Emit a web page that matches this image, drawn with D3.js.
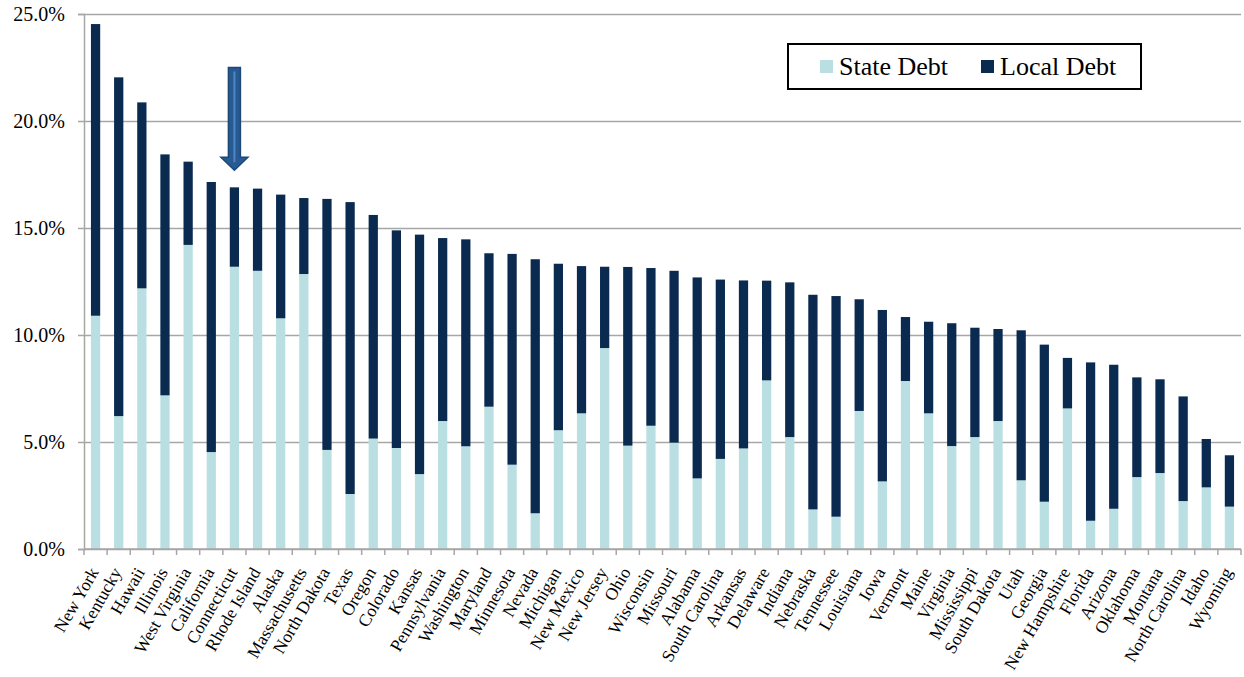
<!DOCTYPE html>
<meta charset="utf-8">
<style>
  body { margin: 0; background: #fff; }
  text { font-family: 'Liberation Serif', 'Times New Roman', serif; fill: #000; }
  .grid line { stroke: #a6a6a6; stroke-width: 1.5px; }
  .grid path { display: none; }
</style>
<body>
<svg id="chart" width="1244" height="677"></svg>
<script src="https://cdn.jsdelivr.net/npm/d3@7"></script>
<script>
// states sorted by total debt share
var states = ["New York","Kentucky","Hawaii","Illinois","West Virginia","California","Connecticut","Rhode Island",
  "Alaska","Massachusetts","North Dakota","Texas","Oregon","Colorado","Kansas","Pennsylvania","Washington",
  "Maryland","Minnesota","Nevada","Michigan","New Mexico","New Jersey","Ohio","Wisconsin","Missouri","Alabama",
  "South Carolina","Arkansas","Delaware","Indiana","Nebraska","Tennessee","Louisiana","Iowa","Vermont","Maine",
  "Virginia","Mississippi","South Dakota","Utah","Georgia","New Hampshire","Florida","Arizona","Oklahoma",
  "Montana","North Carolina","Idaho","Wyoming"];

var stateDebt = [10.90,6.21,12.18,7.18,14.21,4.53,13.19,13.00,10.78,12.85,4.63,2.57,5.16,4.72,3.50,5.98,4.80,
  6.65,3.94,1.67,5.55,6.34,9.39,4.83,5.76,4.97,3.30,4.21,4.70,7.88,5.23,1.85,1.51,6.45,3.16,7.85,6.34,
  4.81,5.23,5.98,3.21,2.21,6.57,1.32,1.88,3.36,3.55,2.24,2.88,1.98];

var localDebt = [13.63,15.83,8.69,11.26,3.89,12.62,3.71,3.84,5.78,3.55,11.73,13.64,10.45,10.17,11.19,8.55,9.67,
  7.17,9.85,11.87,7.78,6.88,3.80,8.35,7.37,8.03,9.39,8.38,7.85,4.66,7.23,10.03,10.31,5.22,8.01,2.99,4.28,
  5.74,5.11,4.30,7.01,7.34,2.36,7.40,6.73,4.66,4.38,4.89,2.26,2.40];

var yTicks = [0, 5, 10, 15, 20, 25];
var seriesNames = ["State Debt", "Local Debt"];
var colors = ["#b9dfe3", "#0a2a50"];
var highlight = "Connecticut";

var svg = d3.select("#chart"),
    plotL = 84, plotR = 1241, plotT = 14, plotB = 549;

var rows = states.map(function(s, i) {
  return { state: s, "State Debt": stateDebt[i], "Local Debt": localDebt[i] };
});

var x = d3.scaleBand().domain(states).range([plotL, plotR]).paddingInner(0.6).paddingOuter(0.3);
var y = d3.scaleLinear().domain([0, 25]).range([plotB, plotT]);

// gridlines
svg.append("g")
    .attr("class", "grid")
    .attr("transform", "translate(" + plotL + ",0)")
    .call(d3.axisLeft(y).tickValues(yTicks).tickSize(-(plotR - plotL)).tickFormat(""));

// y axis
var yAxis = svg.append("g")
    .attr("transform", "translate(" + plotL + ",0)")
    .call(d3.axisLeft(y).tickValues(yTicks).tickSize(6).tickPadding(13)
      .tickFormat(function(d) { return d.toFixed(1) + "%"; }));
yAxis.select(".domain").attr("stroke", "#a6a6a6").attr("stroke-width", 1.5);
yAxis.selectAll(".tick line").attr("stroke", "#a6a6a6").attr("stroke-width", 1.5);
yAxis.selectAll("text").style("font-size", "20px").style("font-family", "Liberation Serif");

// stacked bars
var stack = d3.stack().keys(seriesNames)(rows);

svg.append("g").selectAll("g")
    .data(stack)
    .enter().append("g")
    .attr("fill", function(d, i) { return colors[i]; })
    .selectAll("rect")
    .data(function(d) { return d; })
    .enter().append("rect")
    .attr("x", function(d) { return x(d.data.state); })
    .attr("width", x.bandwidth())
    .attr("y", function(d) { return y(d[1]); })
    .attr("height", function(d) { return y(d[0]) - y(d[1]); });

// x axis line and boundary ticks
var xg = svg.append("g");
xg.append("line")
    .attr("x1", plotL).attr("x2", plotR)
    .attr("y1", plotB).attr("y2", plotB)
    .attr("stroke", "#a6a6a6").attr("stroke-width", 1.5);
xg.selectAll("line.tk")
    .data(d3.range(states.length + 1))
    .enter().append("line")
    .attr("class", "tk")
    .attr("x1", function(i) { return plotL + i * x.step(); })
    .attr("x2", function(i) { return plotL + i * x.step(); })
    .attr("y1", plotB).attr("y2", plotB + 6)
    .attr("stroke", "#a6a6a6").attr("stroke-width", 1.5);

xg.selectAll("text")
    .data(states)
    .enter().append("text")
    .attr("text-anchor", "end")
    .attr("transform", function(d) {
      return "translate(" + (x(d) + x.bandwidth() / 2 + 3.5) + "," + (plotB + 23) + ") rotate(-60)";
    })
    .style("font-size", "17.5px")
    .text(function(d) { return d; });

// arrow pointing at the highlighted state
var cx = x(highlight) + x.bandwidth() / 2,
    idx = states.indexOf(highlight),
    tipY = y(stateDebt[idx] + localDebt[idx] + 0.8),
    topY = y(22.5),
    shaft = 6, head = 13.5, headH = 13;
svg.append("path")
    .attr("d", "M" + (cx - shaft) + "," + topY + "H" + (cx + shaft) + "V" + (tipY - headH) +
      "H" + (cx + head) + "L" + cx + "," + tipY + "L" + (cx - head) + "," + (tipY - headH) +
      "H" + (cx - shaft) + "Z")
    .attr("fill", "#275a91")
    .attr("stroke", "#1c4877")
    .attr("stroke-width", 1.5);
svg.append("line")
    .attr("x1", cx).attr("x2", cx)
    .attr("y1", topY + 4).attr("y2", tipY - 8)
    .attr("stroke", "#4f86c4").attr("stroke-width", 2);

// legend
var lg = svg.append("g");
lg.append("rect")
    .attr("x", 788).attr("y", 44).attr("width", 353).attr("height", 45)
    .attr("fill", "#fff").attr("stroke", "#000").attr("stroke-width", 2);
var lx = [820, 981];
seriesNames.forEach(function(n, i) {
  lg.append("rect").attr("x", lx[i]).attr("y", 60).attr("width", 13).attr("height", 13).attr("fill", colors[i]);
  lg.append("text").attr("x", lx[i] + 19).attr("y", 75).style("font-size", "26px").text(n);
});
</script>
</body>
